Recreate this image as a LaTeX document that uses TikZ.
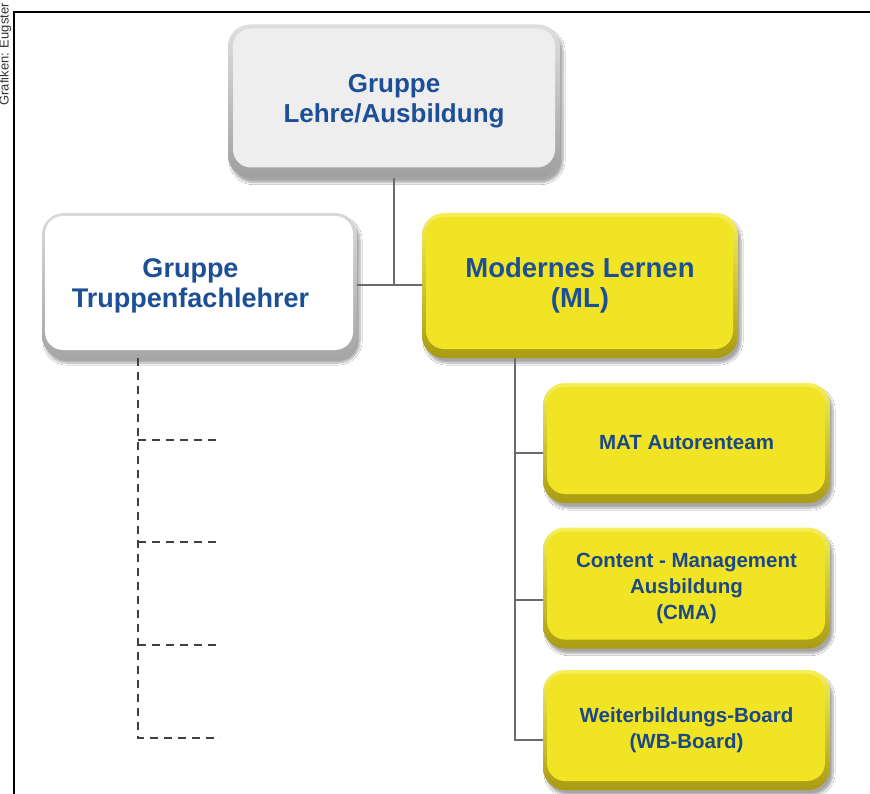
\documentclass[tikz,border=0pt]{standalone}
\usepackage{fontspec}
\setmainfont{Liberation Sans}
\usetikzlibrary{shadows.blur}
\definecolor{txtblue}{HTML}{1C4F96}
\definecolor{subblue}{HTML}{1A4888}
\definecolor{yface}{HTML}{F0E424}
\definecolor{ytop}{HTML}{F6EE5A}
\definecolor{ybot}{HTML}{A99B12}
\definecolor{gface}{HTML}{EEEEEE}
\definecolor{linegrey}{HTML}{6B6B6B}
\tikzset{
  boxbase/.style={rounded corners=22pt, align=center, text=txtblue, inner sep=0pt,
    blur shadow={shadow xshift=3pt, shadow yshift=-5pt, shadow blur steps=8, shadow opacity=35}},
  bigtext/.style={font=\bfseries\fontsize{26}{30}\selectfont},
  smalltext/.style={text=subblue, font=\bfseries\fontsize{20.5}{26}\selectfont},
  greybox/.style={boxbase, top color=gray!25, bottom color=gray!75,
    path picture={\fill[gface, rounded corners=18pt] ([shift={(5pt,-4pt)}]path picture bounding box.north west) rectangle ([shift={(-5pt,10pt)}]path picture bounding box.south east);}},
  whitebox/.style={boxbase, top color=gray!30, bottom color=gray!70,
    path picture={\fill[white, rounded corners=18pt] ([shift={(3pt,-3pt)}]path picture bounding box.north west) rectangle ([shift={(-4pt,8pt)}]path picture bounding box.south east);}},
  yellowbox/.style={boxbase, top color=ytop, bottom color=ybot,
    path picture={\fill[yface, rounded corners=18pt] ([shift={(4pt,-4pt)}]path picture bounding box.north west) rectangle ([shift={(-5pt,9pt)}]path picture bounding box.south east);}},
  conn/.style={draw=linegrey, line width=2pt},
  dashconn/.style={draw=black!75, line width=2pt, dash pattern=on 8pt off 6pt},
}
\begin{document}
\begin{tikzpicture}[x=1pt,y=-1pt]
\useasboundingbox[fill=white] (0,0) rectangle (870,794);
% frame
\draw[line width=1.2pt] (14,794) -- (14,12) -- (870,12);
\node[rotate=90, anchor=south east, font=\fontsize{13}{13}\selectfont, text=black!80, inner sep=0pt] (credit) at (11.5,3) {Grafiken: Eugster};
% boxes
\node[greybox, bigtext, minimum width=332pt, minimum height=153pt] (top) at (394,101) {Gruppe\\Lehre/Ausbildung};
\node[whitebox, bigtext, font=\bfseries\fontsize{27}{30}\selectfont, minimum width=315pt, minimum height=145pt, text width=315pt] (trup) at (199.5,285.5) {\hspace*{-18pt}Gruppe\\\hspace*{-18pt}Truppenfachlehrer};
\node[yellowbox, bigtext, font=\bfseries\fontsize{27.5}{30}\selectfont, minimum width=316pt, minimum height=145pt] (ml) at (580,285.5) {Modernes Lernen\\(ML)};
\node[yellowbox, smalltext, minimum width=287pt, minimum height=120pt] (mat) at (686.5,443) {MAT Autorenteam};
\node[yellowbox, smalltext, minimum width=287pt, minimum height=121pt] (cma) at (686.5,588) {Content - Management\\Ausbildung\\(CMA)};
\node[yellowbox, smalltext, minimum width=287pt, minimum height=120pt] (wb) at (686.5,730) {Weiterbildungs-Board\\(WB-Board)};
% solid connectors
\draw[conn] (trup.east) -- (ml.west);
\draw[conn] (top.south) -- (top.south |- ml.west);
\coordinate (mlv) at ([xshift=93pt]ml.south west);
\coordinate (matin) at ([yshift=-10pt]mat.west);
\coordinate (cmain) at ([yshift=-12pt]cma.west);
\coordinate (wbin) at ([yshift=-10pt]wb.west);
\draw[conn] (mlv) |- (wbin);
\draw[conn] (mlv |- matin) -- (matin);
\draw[conn] (mlv |- cmain) -- (cmain);
% dashed connectors
\coordinate (tv) at ([xshift=96pt]trup.south west);
\coordinate (d1) at (220,440);
\coordinate (d2) at (220,542);
\coordinate (d3) at (220,645);
\coordinate (d4) at (220,738);
\draw[dashconn] (tv) |- (d4);
\draw[dashconn] (tv |- d1) -- (d1);
\draw[dashconn] (tv |- d2) -- (d2);
\draw[dashconn] (tv |- d3) -- (d3);
\end{tikzpicture}
\end{document}
